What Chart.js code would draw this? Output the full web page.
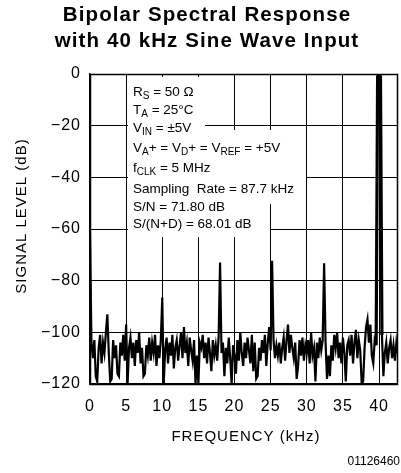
<!DOCTYPE html>
<html>
<head>
<meta charset="utf-8">
<script src="https://cdn.jsdelivr.net/npm/chart.js@4.4.1/dist/chart.umd.min.js"></script>
<style>
  html, body { margin: 0; padding: 0; background: #fff; }
  #wrap { width: 401px; height: 473px; position: relative; }
</style>
</head>
<body>
<div id="wrap"><canvas id="c" width="401" height="473"></canvas></div>
<script>
// ---- Data ----
const TITLE_LINES = ["Bipolar Spectral Response", "with 40 kHz Sine Wave Input"];
const X_TITLE = "FREQUENCY (kHz)";
const Y_TITLE = "SIGNAL LEVEL (dB)";
const FOOTNOTE = "01126460";
const X_TICKS = [0, 5, 10, 15, 20, 25, 30, 35, 40];
const Y_TICKS = [0, -20, -40, -60, -80, -100, -120];
const X_MIN = 0, X_MAX = 42.6;
const Y_MIN = -120, Y_MAX = 0;
const FREQ_STEP_KHZ = 0.2; // spacing of the spectrum samples below
// Spectrum level in dB, one value per 0.2 kHz from 0 kHz to 42.6 kHz
const levelsDb = [
  -61.5, -104, -110, -103, -117, -119, -106, -101, -112, -104,
  -108, -100, -93, -108, -119, -118, -103, -110, -105, -116,
  -117, -104, -109, -101, -111, -97, -120, -106, -102, -110,
  -104, -113, -103, -108, -100, -112, -106, -117, -116, -105,
  -109, -102, -111, -104, -108, -101, -113, -105, -110, -103,
  -86.5, -120, -107, -102, -112, -104, -109, -101, -114, -106,
  -103, -111, -105, -100, -110, -98, -108, -104, -113, -102,
  -107, -111, -103, -120, -109, -120, -104, -106, -101, -110,
  -104, -112, -102, -108, -115, -103, -109, -105, -111, -102,
  -73, -108, -104, -117, -106, -112, -102, -110, -120, -105,
  -109, -116, -103, -111, -100, -108, -113, -104, -110, -102,
  -107, -112, -101, -115, -104, -118, -117, -106, -111, -103,
  -108, -101, -113, -104, -98, -107, -72.3, -103, -110, -105,
  -109, -104, -112, -106, -102, -111, -103, -97, -108, -101,
  -106, -110, -104, -118, -113, -103, -109, -102, -111, -105,
  -108, -103, -112, -100, -109, -106, -119, -104, -110, -102,
  -107, -103, -73.3, -104, -118, -109, -117, -105, -111, -101,
  -106, -100, -110, -104, -112, -102, -108, -119, -105, -103,
  -109, -101, -112, -104, -99, -110, -103, -107, -120, -119,
  -106, -98, -95, -104, -97, -109, -112, -103, -105, -1,
  0, -1, -101, -117, -108, -104, -112, -106, -103, -110,
  -105, -111, -104, -108
];
// Annotation lines: segments of [text, isSubscript]
const NOTE_LINES = [
  [["R", 0], ["S", 1], [" = 50 \u03A9", 0]],
  [["T", 0], ["A", 1], [" = 25\u00B0C", 0]],
  [["V", 0], ["IN", 1], [" = \u00B15V", 0]],
  [["V", 0], ["A", 1], ["+ = V", 0], ["D", 1], ["+ = V", 0], ["REF", 1], [" = +5V", 0]],
  [["f", 0], ["CLK", 1], [" = 5 MHz", 0]],
  [["Sampling  Rate = 87.7 kHz", 0]],
  [["S/N = 71.80 dB", 0]],
  [["S/(N+D) = 68.01 dB", 0]]
];

const points = levelsDb.map((v, i) => ({ x: +(i * FREQ_STEP_KHZ).toFixed(1), y: v }));

const FONT = "'Liberation Sans', Arial, Helvetica, sans-serif";

const decor = {
  id: 'decor',
  beforeDraw(chart) {
    chart.ctx.letterSpacing = '1px';
  },
  beforeDatasetsDraw(chart) {
    const ctx = chart.ctx;
    ctx.save();
    ctx.letterSpacing = '0px';
    // white blocks behind the annotation text (cover the grid)
    ctx.fillStyle = '#fff';
    ctx.fillRect(128, 77, 205 - 128, 130 - 77);
    ctx.fillRect(128, 130, 306 - 128, 204 - 130);
    ctx.fillRect(128, 204, 270 - 128, 237 - 204);
    // annotation text
    const baselines = [96, 113.5, 131.7, 151.7, 171.7, 193.3, 210.7, 228];
    ctx.fillStyle = '#000';
    ctx.textBaseline = 'alphabetic';
    ctx.textAlign = 'left';
    NOTE_LINES.forEach((line, li) => {
      let x = 133;
      const by = baselines[li];
      line.forEach(([t, sub]) => {
        if (sub) {
          ctx.font = "10px " + FONT;
          ctx.fillText(t, x, by + 3);
          x += ctx.measureText(t).width;
        } else {
          ctx.font = "13.5px " + FONT;
          ctx.fillText(t, x, by);
          x += ctx.measureText(t).width;
        }
      });
    });
    ctx.restore();
  },
  afterDraw(chart) {
    const ctx = chart.ctx;
    const a = chart.chartArea;
    ctx.save();
    // frame
    ctx.strokeStyle = '#000';
    ctx.lineWidth = 1.5;
    ctx.strokeRect(Math.round(a.left) + 0.5, Math.round(a.top) + 0.5,
      Math.round(a.right - a.left) - 1, Math.round(a.bottom - a.top));
    ctx.fillStyle = '#000';
    // title
    ctx.font = "bold 20.5px " + FONT;
    ctx.letterSpacing = '1.1px';
    ctx.textAlign = 'center';
    ctx.textBaseline = 'alphabetic';
    ctx.fillText(TITLE_LINES[0], 207, 20.7);
    ctx.fillText(TITLE_LINES[1], 207, 46.7);
    // axis titles
    ctx.font = "15px " + FONT;
    ctx.letterSpacing = '1px';
    ctx.textBaseline = 'middle';
    ctx.fillText(X_TITLE, 246, 437);
    ctx.translate(22, 216);
    ctx.rotate(-Math.PI / 2);
    ctx.fillText(Y_TITLE, 0, 0);
    ctx.restore();
    ctx.save();
    ctx.letterSpacing = '0px';
    ctx.font = "12px " + FONT;
    ctx.fillStyle = '#000';
    ctx.textAlign = 'right';
    ctx.textBaseline = 'middle';
    ctx.fillText(FOOTNOTE, 400, 462);
    ctx.restore();
  }
};

new Chart(document.getElementById('c'), {
  type: 'line',
  data: {
    datasets: [{
      data: points,
      borderColor: '#000',
      borderWidth: 2.2,
      pointRadius: 0,
      tension: 0,
      fill: false,
      segment: {
        // the full-scale fundamental is drawn as a heavy bar
        borderWidth: c => (Math.max(c.p0.parsed.y, c.p1.parsed.y) > -30 ? 3.2 : 2.2)
      }
    }]
  },
  options: {
    responsive: false,
    animation: false,
    devicePixelRatio: 1,
    layout: { padding: { top: 74, right: 1, left: 0, bottom: 0 } },
    plugins: { legend: { display: false }, title: { display: false }, tooltip: { enabled: false } },
    scales: {
      x: {
        type: 'linear',
        min: X_MIN, max: X_MAX,
        afterFit(s) { s.height = 89; },
        afterBuildTicks(s) { s.ticks = X_TICKS.map(v => ({ value: v })); },
        grid: { color: '#000', lineWidth: 1, drawTicks: false },
        border: { color: '#000', width: 1.5 },
        ticks: { color: '#000', padding: 13, font: { family: FONT, size: 16 } }
      },
      y: {
        type: 'linear',
        min: Y_MIN, max: Y_MAX,
        afterFit(s) { s.width = 90; },
        afterBuildTicks(s) { s.ticks = Y_TICKS.map(v => ({ value: v })); },
        grid: { color: '#000', lineWidth: 1, drawTicks: false },
        border: { color: '#000', width: 1.5 },
        ticks: {
          color: '#000', padding: 9, font: { family: FONT, size: 16 },
          callback: v => (v < 0 ? '\u2212' + Math.abs(v) : String(v))
        }
      }
    }
  },
  plugins: [decor]
});
</script>
</body>
</html>
